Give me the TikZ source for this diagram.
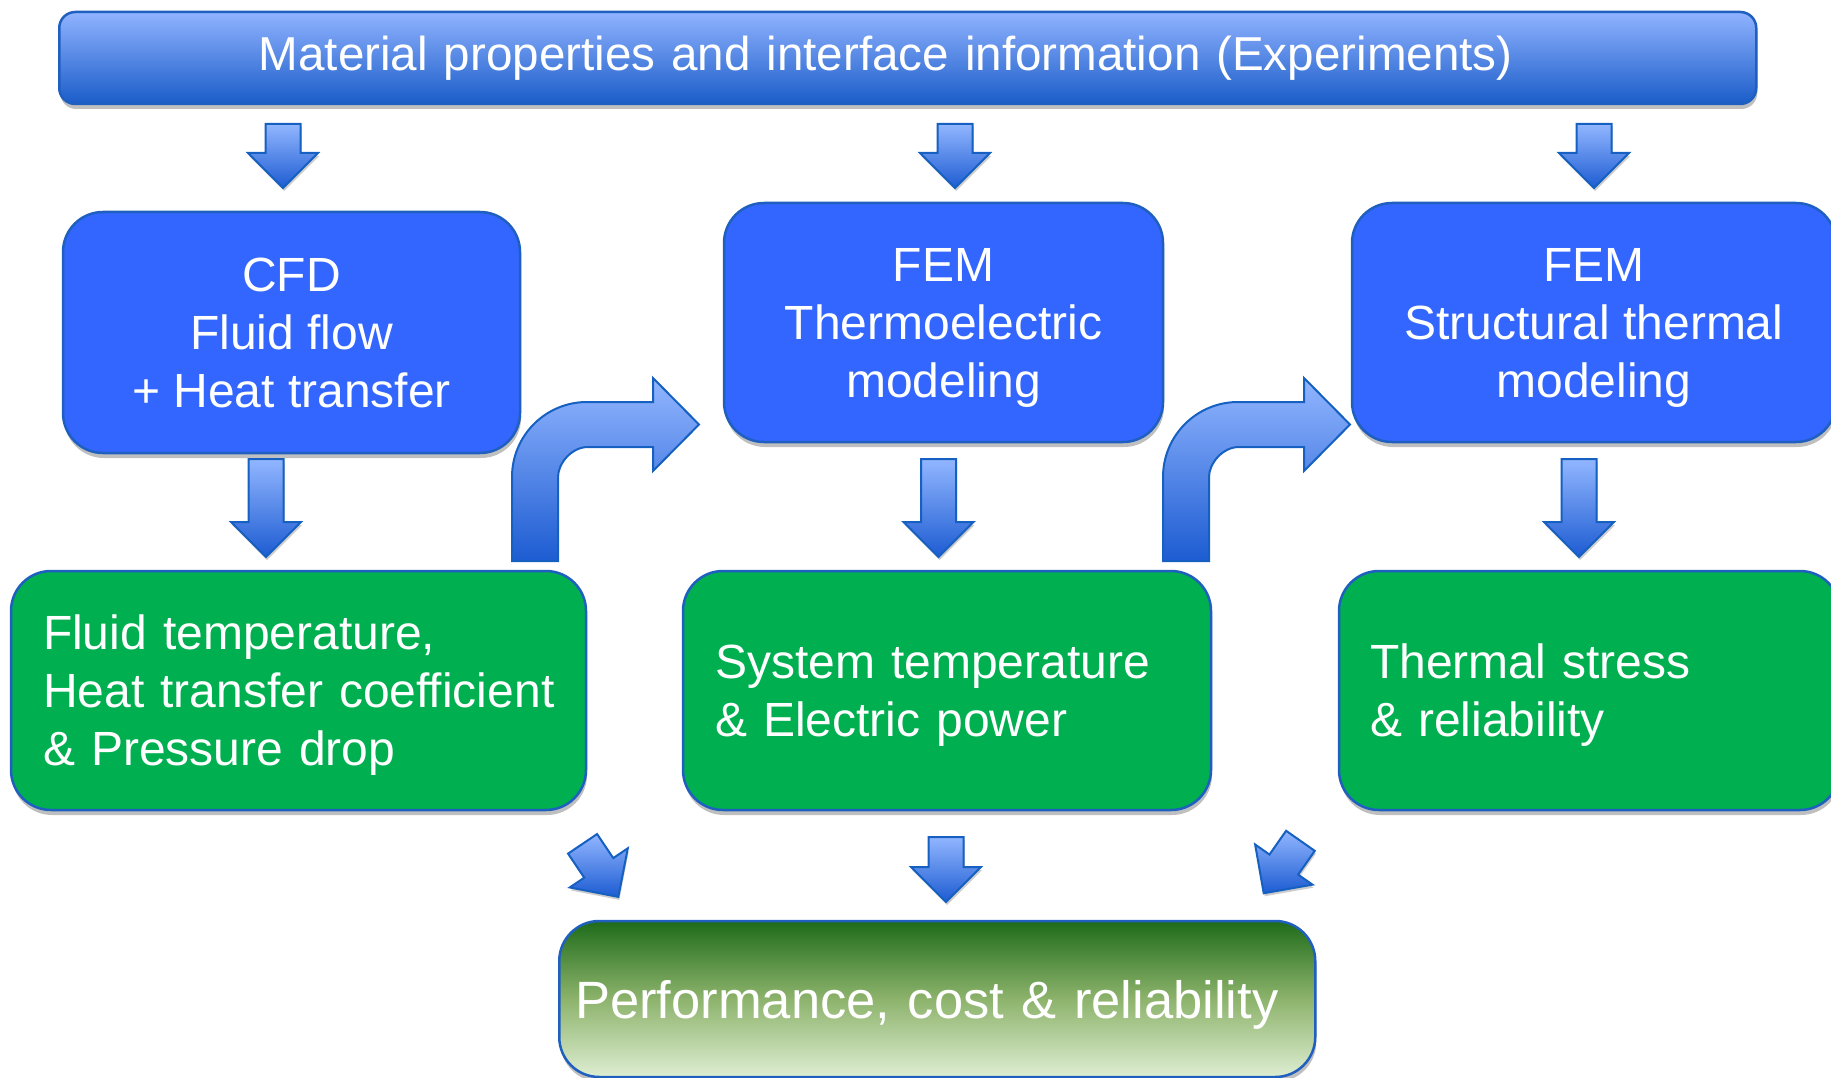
\documentclass[tikz,border=0pt]{standalone}
\usepackage{fontspec}
\setmainfont{Liberation Sans}
\usetikzlibrary{shapes.arrows,shadows}

\definecolor{boxblue}{HTML}{3366FF}
\definecolor{boxgreen}{HTML}{00B050}
\definecolor{edgeblue}{HTML}{1F5FBF}
\definecolor{barlight}{HTML}{90B3FF}
\definecolor{bardark}{HTML}{1A5CC8}
\definecolor{arrowlight}{HTML}{92B6FF}
\definecolor{arrowdark}{HTML}{1D5CD2}
\definecolor{arrowedge}{HTML}{1560C0}
\definecolor{leafdark}{HTML}{1E6B1A}
\definecolor{leafmid}{HTML}{8DB36C}
\definecolor{leaflight}{HTML}{DEEED2}

\tikzset{
  box/.style={draw=edgeblue, line width=2.5pt, rounded corners=40pt, text=white,
    inner sep=0pt, font=\fontsize{48}{58}\selectfont,
    drop shadow={shadow xshift=1pt, shadow yshift=-5pt, opacity=.25, fill=black}},
  modelbox/.style={box, fill=boxblue, align=center},
  resultbox/.style={box, fill=boxgreen, align=left, inner xsep=32pt},
  topbar/.style={box, rounded corners=16pt, top color=barlight, bottom color=bardark,
    align=left, font=\fontsize{47.6}{58}\selectfont},
  finalbox/.style={box, top color=leafdark, bottom color=leaflight, middle color=leafmid,
    align=left, font=\fontsize{52.5}{60}\selectfont},
  blockarrow/.style={single arrow, draw=arrowedge, line width=2pt, top color=arrowlight,
    bottom color=arrowdark, inner xsep=0pt, inner ysep=16.5pt,
    single arrow head extend=17.5pt, minimum height=#1, anchor=tail,
    drop shadow={shadow xshift=1pt, shadow yshift=-3pt, opacity=.2, fill=black}},
  bent/.style={draw=arrowedge, line width=2pt, top color=arrowlight, bottom color=arrowdark},
  bentarrow/.pic={
    \path[bent] (0,0) -- (0,-84) .. controls (0,-125.4) and (33.6,-159) .. (75,-159)
      -- (141,-159) -- (141,-183) -- (187,-136.5) -- (141,-90) -- (141,-114) -- (76,-114)
      .. controls (59.4,-114) and (46,-97.4) .. (46,-84) -- (46,0) -- cycle;
  }
}

\begin{document}
\begin{tikzpicture}[x=1pt,y=-1pt]
\useasboundingbox (0,0) rectangle (1831,1078);

% experiments on top
\node[topbar, anchor=west, minimum height=92pt, text width=1298pt, inner xsep=199.5pt] (exp) at (58,58)
  {Material properties and interface information (Experiments)};

% models
\node[modelbox, minimum width=457pt, minimum height=241pt] (cfd) at (291.5,332.5)
  {CFD\\Fluid flow\\+ Heat transfer};
\node[modelbox, minimum width=439pt, minimum height=239pt] (thermo) at (943.5,322.5)
  {FEM\\Thermoelectric\\\smash{modeling}};
\node[modelbox, minimum width=484pt, minimum height=239pt] (struct) at (1594,322.5)
  {FEM\\Structural thermal\\\smash{modeling}};

% results
\node[resultbox, minimum height=239pt, text width=511pt] (fluid) at (298.5,690.5)
  {Fluid temperature,\\\mbox{Heat transfer coefficient}\\\smash{\& Pressure drop}};
\node[resultbox, minimum height=239pt, text width=464pt] (power) at (947,690.5)
  {System temperature\\\smash{\& Electric power}};
\node[resultbox, minimum height=239pt, text width=439pt, inner xsep=31pt] (stress) at (1589.5,690.5)
  {Thermal stress\\\smash{\& reliability}};

% final
\node[finalbox, anchor=west, minimum height=156pt, text width=724pt, inner xsep=16pt] (perf) at (558,999)
  {\raisebox{0pt}[\height][0pt]{Performance, cost \& reliability}};

% block arrows
\node[blockarrow=64pt, rotate=-90] (in1) at (283,123) {};
\node[blockarrow=64pt, rotate=-90] (in2) at (955,123) {};
\node[blockarrow=64pt, rotate=-90] (in3) at (1594,123) {};
\node[blockarrow=98pt, rotate=-90] (out1) at (266,458) {};
\node[blockarrow=98pt, rotate=-90] (out2) at (938.5,458) {};
\node[blockarrow=98pt, rotate=-90] (out3) at (1579,458) {};
\node[blockarrow=64pt, rotate=-56] (res1) at (582,843) {};
\node[blockarrow=65pt, rotate=-90] (res2) at (946,836) {};
\node[blockarrow=64pt, rotate=-125] (res3) at (1301,840) {};

% coupling arrows
\pic at (512,561) {bentarrow};
\pic at (1163,561) {bentarrow};
\end{tikzpicture}
\end{document}
